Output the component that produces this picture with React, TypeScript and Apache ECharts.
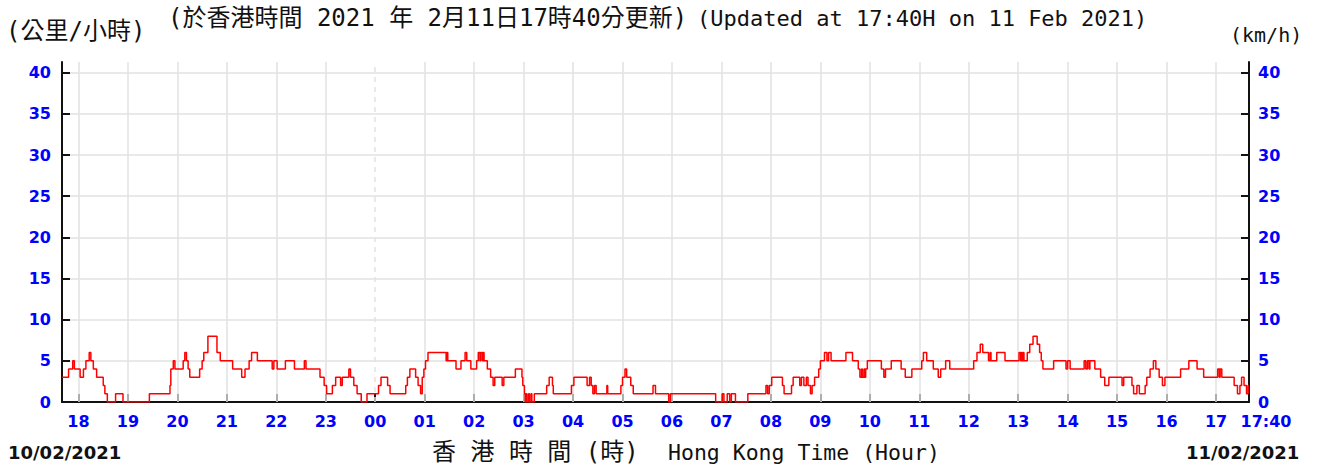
import React, { useEffect, useRef } from "react";
import * as echarts from "echarts";

// Time is in minutes from 17:40 on 10/02/2021; each pair = [minute, km/h] from which the reading holds.
const eveningSteps: [number, number][] = [
  [0, 3], [8, 4], [13, 5], [15, 4], [22, 3], [26, 4], [29, 5], [33, 6], [35, 5], [38, 4], [42, 3], [50, 2],
  [52, 1], [55, 0], [65, 1], [74, 0], [106, 1], [131, 2], [132, 4], [135, 5], [137, 4], [147, 5], [149, 6],
  [151, 5], [153, 4], [155, 3], [167, 4], [170, 5], [172, 6], [177, 8], [188, 6], [192, 5], [207, 4], [218, 3],
  [222, 4], [227, 5], [230, 6], [237, 5], [255, 4], [257, 5], [261, 4], [271, 5], [282, 4], [294, 5], [296, 4],
  [313, 3], [318, 2], [321, 1], [328, 2], [332, 3], [338, 2], [340, 3], [348, 4], [350, 3], [354, 2], [358, 1],
  [363, 0],
];
const nightSteps: [number, number][] = [
  [370, 1], [384, 2], [387, 3], [395, 2], [398, 1], [417, 2], [419, 3], [422, 4], [429, 3], [432, 2], [435, 1],
  [437, 3], [439, 4], [441, 5], [444, 6], [466, 5], [467, 6], [468, 5], [478, 4], [484, 5], [489, 6], [491, 5],
  [496, 4], [503, 5], [505, 6], [507, 5], [508, 6], [510, 5], [511, 6], [512, 5], [516, 4], [520, 3], [523, 2],
  [525, 3], [534, 2], [536, 3], [550, 4], [558, 3], [559, 2], [561, 1], [562, 0], [563, 1], [564, 0], [566, 1],
  [567, 0], [569, 1], [570, 0], [573, 1], [588, 2], [591, 3], [595, 2], [596, 1], [618, 2], [621, 3], [637, 2],
  [640, 3], [642, 2], [644, 1], [646, 2], [648, 1], [661, 2], [662, 1], [678, 2], [680, 3], [683, 4], [685, 3],
  [690, 2], [693, 1], [717, 2],
];
const morningSteps: [number, number][] = [
  [720, 1], [736, 0], [738, 1], [793, 0], [801, 1], [803, 0], [807, 1], [810, 0], [812, 1], [817, 0], [832, 1],
  [854, 2], [856, 1], [858, 2], [861, 3], [874, 2], [876, 1], [885, 2], [887, 3], [895, 2], [897, 3], [900, 2],
  [903, 3], [905, 2], [908, 1], [910, 2], [913, 3], [918, 4], [920, 5], [925, 6], [928, 5], [930, 6], [933, 5],
  [951, 6], [959, 5], [966, 4], [968, 3], [970, 4], [971, 3], [973, 4], [974, 3], [975, 4], [977, 5], [994, 4],
  [997, 3], [999, 4], [1006, 5], [1018, 4], [1023, 3], [1031, 4], [1043, 5], [1045, 6], [1049, 5], [1057, 4],
  [1063, 3], [1066, 4], [1072, 5], [1077, 4],
];
const afternoonSteps: [number, number][] = [
  [1106, 5], [1110, 6], [1114, 7], [1117, 6], [1124, 5], [1126, 6], [1127, 5], [1134, 6], [1144, 5], [1161, 6],
  [1163, 5], [1164, 6], [1165, 5], [1166, 6], [1167, 5], [1171, 6], [1174, 7], [1178, 8], [1183, 7], [1186, 6],
  [1188, 5], [1190, 4], [1203, 5], [1218, 4], [1220, 5], [1223, 4], [1240, 5], [1242, 4], [1244, 5], [1246, 4],
  [1247, 5], [1253, 4], [1260, 3], [1265, 2], [1270, 3], [1286, 2], [1288, 3], [1298, 2], [1300, 1], [1304, 2],
  [1307, 1], [1314, 2], [1316, 3], [1320, 4], [1324, 5], [1327, 4], [1331, 3], [1335, 2], [1338, 3], [1357, 4],
  [1367, 5], [1377, 4], [1385, 3], [1402, 4], [1404, 3], [1405, 4], [1407, 3], [1422, 2], [1426, 1], [1429, 2],
  [1431, 3], [1434, 2], [1437, 1], [1439, 2], [1440, 2],
];

const hourLabels = [
  "18", "19", "20", "21", "22", "23", "00", "01", "02", "03", "04", "05",
  "06", "07", "08", "09", "10", "11", "12", "13", "14", "15", "16", "17",
];
const firstHourOffset = 20; // 17:40 -> 18:00
const totalMinutes = 1440;
const endLabel = "17:40";
const yTicks = [0, 5, 10, 15, 20, 25, 30, 35, 40];
const yMax = 41.3;

const titleUnitZh = "(公里/小時)";
const titleZh = "(於香港時間 2021 年 2月11日17時40分更新)";
const titleEn = "(Updated at 17:40H on 11 Feb 2021)";
const unitEn = "(km/h)";
const startDate = "10/02/2021";
const endDate = "11/02/2021";
const xNameZh = "香 港 時 間 (時)";
const xNameEn = "Hong Kong Time (Hour)";

const BLUE = "#0000ff";
const AXIS = "#111111";
const GRIDC = "#e2e2e2";
const MONO = '"DejaVu Sans Mono", "Noto Sans CJK TC", monospace';
const BOLD = '"DejaVu Sans", sans-serif';

export default function App() {
  const ref = useRef<HTMLDivElement>(null);

  useEffect(() => {
    document.body.style.margin = "0";
    if (!ref.current) return;
    const chart = echarts.init(ref.current, undefined, { renderer: "svg" });

    const hourPositions = hourLabels.map((_, i) => firstHourOffset + i * 60);
    const steps = [...eveningSteps, ...nightSteps, ...morningSteps, ...afternoonSteps];

    const labelStyle = {
      color: BLUE,
      fontWeight: "bold" as const,
      fontSize: 16,
      fontFamily: BOLD,
    };

    const yAxisBase = {
      type: "value" as const,
      min: 0,
      max: yMax,
      interval: 5,
      axisLine: { show: true, lineStyle: { color: AXIS, width: 2 } },
      axisTick: {
        show: true,
        inside: true,
        length: 8,
        customValues: yTicks,
        lineStyle: { color: AXIS, width: 2 },
      },
    };

    const option: any = {
      animation: false,
      grid: { left: 62, right: 73, top: 62, bottom: 66 },
      xAxis: {
        type: "value",
        min: 0,
        max: totalMinutes,
        axisLine: { show: true, onZero: false, lineStyle: { color: AXIS, width: 2 } },
        axisTick: {
          show: true,
          inside: true,
          length: 8,
          customValues: hourPositions,
          lineStyle: { color: AXIS, width: 2 },
        },
        axisLabel: {
          ...labelStyle,
          margin: 11,
          customValues: [...hourPositions, totalMinutes],
          formatter: (v: number) => {
            if (v === totalMinutes) return "{e|" + endLabel + "}";
            const idx = Math.round((v - firstHourOffset) / 60);
            return hourLabels[idx] ?? "";
          },
          rich: {
            e: { ...labelStyle, padding: [0, 0, 0, 34] },
          },
        },
        splitLine: { show: false },
      },
      yAxis: [
        {
          ...yAxisBase,
          position: "left",
          axisLabel: { ...labelStyle, margin: 11, customValues: yTicks },
          splitLine: { show: true, lineStyle: { color: GRIDC, width: 1.5 } },
        },
        {
          ...yAxisBase,
          position: "right",
          axisLabel: { ...labelStyle, margin: 9, customValues: yTicks },
          splitLine: { show: false },
        },
      ],
      series: [
        {
          type: "line",
          data: [],
          z: 1,
          silent: true,
          markLine: {
            silent: true,
            z: 1,
            symbol: ["none", "none"],
            label: { show: false },
            emphasis: { disabled: true },
            data: hourPositions.map((p, i) => ({
              xAxis: p,
              lineStyle: {
                color: GRIDC,
                width: 1.5,
                type: hourLabels[i] === "00" ? [5, 5] : "solid",
              },
            })),
          },
        },
        {
          type: "line",
          step: "end",
          data: steps,
          showSymbol: false,
          symbol: "none",
          z: 3,
          lineStyle: { color: "#ff0000", width: 1.5 },
          silent: true,
        },
      ],
      graphic: [
        {
          type: "text",
          x: 6,
          y: 31,
          style: { text: titleUnitZh, font: `24px ${MONO}`, fill: "#111", textVerticalAlign: "middle" },
        },
        {
          type: "text",
          x: 168,
          y: 18,
          style: { text: titleZh, font: `24px ${MONO}`, fill: "#111", textVerticalAlign: "middle" },
        },
        {
          type: "text",
          x: 697,
          y: 18,
          style: { text: titleEn, font: `22px ${MONO}`, fill: "#111", textVerticalAlign: "middle" },
        },
        {
          type: "text",
          x: 1230,
          y: 35,
          style: { text: unitEn, font: `20px ${MONO}`, fill: "#111", textVerticalAlign: "middle" },
        },
        {
          type: "text",
          x: 8,
          y: 452,
          style: { text: startDate, font: `bold 18px ${BOLD}`, fill: "#111", textVerticalAlign: "middle" },
        },
        {
          type: "text",
          x: 432,
          y: 452,
          style: { text: xNameZh, font: `24px ${MONO}`, fill: "#111", textVerticalAlign: "middle" },
        },
        {
          type: "text",
          x: 668,
          y: 452,
          style: { text: xNameEn, font: `21.5px ${MONO}`, fill: "#111", textVerticalAlign: "middle" },
        },
        {
          type: "text",
          x: 1186,
          y: 452,
          style: { text: endDate, font: `bold 18px ${BOLD}`, fill: "#111", textVerticalAlign: "middle" },
        },
      ],
    };

    chart.setOption(option);
    return () => chart.dispose();
  }, []);

  return <div ref={ref} style={{ width: 1322, height: 468 }} />;
}
